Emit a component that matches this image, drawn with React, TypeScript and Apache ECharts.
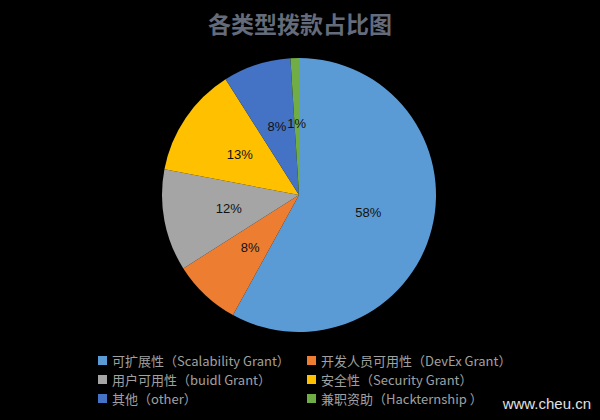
import React, { useEffect, useRef } from "react";
import * as echarts from "echarts";

const categories = [
  "可扩展性（Scalability Grant）",
  "开发人员可用性（DevEx Grant）",
  "用户可用性（buidl Grant）",
  "安全性（Security Grant）",
  "其他（other）",
  "兼职资助（Hackternship ）",
];
const values = [58, 8, 12, 13, 8, 1];
const colors = ["#5B9BD5", "#ED7D31", "#A5A5A5", "#FFC000", "#4472C4", "#70AD47"];
const titleText = "各类型拨款占比图";
const watermark = "www.cheu.cn";

export default function App() {
  const ref = useRef<HTMLDivElement>(null);
  useEffect(() => {
    if (!ref.current) return;
    const chart = echarts.init(ref.current, undefined, { renderer: "svg" });
    const legendCommon = {
      orient: "vertical" as const,
      top: 349,
      itemWidth: 9,
      itemHeight: 9,
      itemGap: 6,
      icon: "rect",
      textStyle: { color: "#a0a0a0", fontSize: 13, fontFamily: "Noto Sans CJK SC" },
      selectedMode: false,
    };
    chart.setOption({
      animation: false,
      backgroundColor: "#000000",
      color: colors,
      title: {
        text: titleText,
        left: "center",
        top: 6,
        textStyle: {
          color: "#646b7a",
          fontSize: 23,
          fontWeight: "bold",
          fontFamily: "Noto Sans CJK SC",
        },
      },
      legend: [
        { ...legendCommon, left: 93, data: [categories[0], categories[2], categories[4]] },
        { ...legendCommon, left: 302, data: [categories[1], categories[3], categories[5]] },
      ],
      graphic: [
        {
          type: "text",
          right: 9,
          top: 396,
          style: {
            text: watermark,
            fill: "#e0e0e0",
            fontSize: 15,
            fontFamily: "Liberation Sans",
          },
        },
      ],
      series: [
        {
          type: "pie",
          center: [299, 195],
          radius: 137,
          startAngle: 90,
          clockwise: true,
          avoidLabelOverlap: false,
          label: {
            show: true,
            position: "inside",
            formatter: "{c}%",
            color: "#111",
            fontSize: 13,
            fontFamily: "Liberation Sans",
          },
          labelLine: { show: false },
          itemStyle: { borderWidth: 0 },
          emphasis: { disabled: true },
          data: categories.map((name, i) => ({ name, value: values[i] })),
        },
      ],
    });
    return () => chart.dispose();
  }, []);
  return (
    <div
      ref={ref}
      style={{ position: "absolute", left: 0, top: 0, width: 600, height: 420 }}
    />
  );
}
